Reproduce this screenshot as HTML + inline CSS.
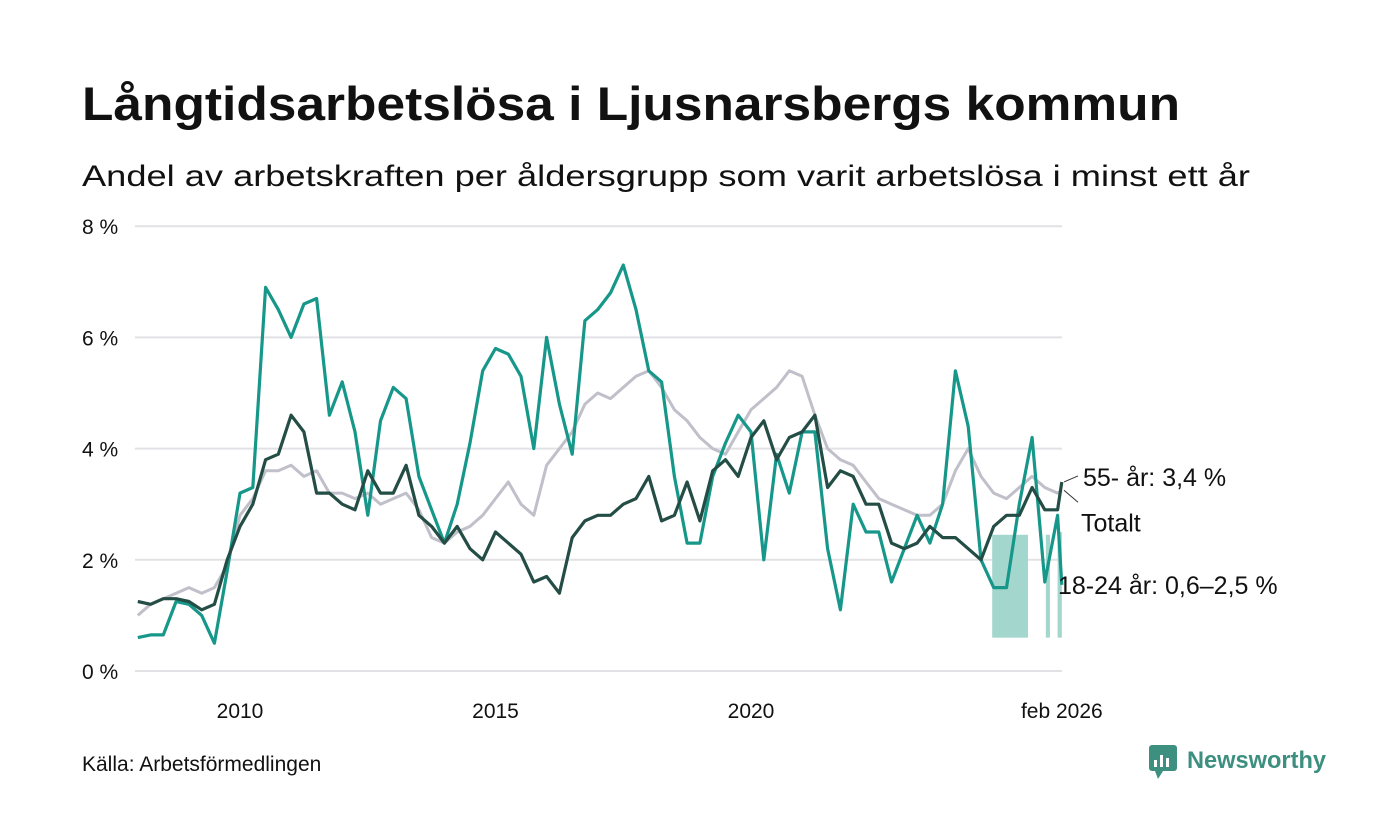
<!DOCTYPE html>
<html><head><meta charset="utf-8"><style>
body{margin:0;background:#fff;font-family:"Liberation Sans",sans-serif;}
#wrap{position:relative;width:1400px;height:840px;overflow:hidden;}
</style></head><body><div id="wrap">
<svg id="chart" width="1400" height="840">
<text x="82" y="120" font-size="47" font-weight="bold" fill="#111" textLength="1098" lengthAdjust="spacingAndGlyphs">Långtidsarbetslösa i Ljusnarsbergs kommun</text>
<text x="82" y="186" font-size="30" fill="#111" textLength="1168" lengthAdjust="spacingAndGlyphs">Andel av arbetskraften per åldersgrupp som varit arbetslösa i minst ett år</text>
<g id="grid"></g><g id="band"></g><g id="lines"></g><g id="labels"></g>
<text x="82" y="771" font-size="21" fill="#111">Källa: Arbetsförmedlingen</text>
<g>
<rect x="1149" y="745" width="28" height="26" rx="3" fill="#3d8f80"/>
<polygon points="1155,771 1163,771 1158,779" fill="#3d8f80"/>
<rect x="1154" y="760" width="3" height="7" fill="#fff"/><rect x="1160" y="755" width="3" height="12" fill="#fff"/><rect x="1166" y="758" width="3" height="9" fill="#fff"/>
<text x="1187" y="768" font-size="24" font-weight="bold" fill="#3d8f80" textLength="139" lengthAdjust="spacingAndGlyphs">Newsworthy</text>
</g>
</svg>
<script>
const times=[];for(let i=0;i<=72;i++)times.push(2008+i*0.25);times.push(2026.083);
const youth=[0.6,0.65,0.65,1.25,1.2,1.0,0.5,1.8,3.2,3.3,6.9,6.5,6.0,6.6,6.7,4.6,5.2,4.3,2.8,4.5,5.1,4.9,3.5,2.9,2.3,3.0,4.1,5.4,5.8,5.7,5.3,4.0,6.0,4.8,3.9,6.3,6.5,6.8,7.3,6.5,5.4,5.2,3.5,2.3,2.3,3.5,4.1,4.6,4.3,2.0,3.9,3.2,4.3,4.3,2.2,1.1,3.0,2.5,2.5,1.6,2.2,2.8,2.3,3.0,5.4,4.4,2.0,1.5,1.5,3.0,4.2,1.6,2.8,1.55];
const total=[1.0,1.2,1.3,1.4,1.5,1.4,1.5,1.9,2.8,3.1,3.6,3.6,3.7,3.5,3.6,3.2,3.2,3.1,3.2,3.0,3.1,3.2,2.9,2.4,2.3,2.5,2.6,2.8,3.1,3.4,3.0,2.8,3.7,4.0,4.3,4.8,5.0,4.9,5.1,5.3,5.4,5.1,4.7,4.5,4.2,4.0,3.9,4.3,4.7,4.9,5.1,5.4,5.3,4.6,4.0,3.8,3.7,3.4,3.1,3.0,2.9,2.8,2.8,3.0,3.6,4.0,3.5,3.2,3.1,3.3,3.5,3.3,3.2,3.25];
const older=[1.25,1.2,1.3,1.3,1.25,1.1,1.2,2.0,2.6,3.0,3.8,3.9,4.6,4.3,3.2,3.2,3.0,2.9,3.6,3.2,3.2,3.7,2.8,2.6,2.3,2.6,2.2,2.0,2.5,2.3,2.1,1.6,1.7,1.4,2.4,2.7,2.8,2.8,3.0,3.1,3.5,2.7,2.8,3.4,2.7,3.6,3.8,3.5,4.2,4.5,3.8,4.2,4.3,4.6,3.3,3.6,3.5,3.0,3.0,2.3,2.2,2.3,2.6,2.4,2.4,2.2,2.0,2.6,2.8,2.8,3.3,2.9,2.9,3.4];
const bandStart=[2024.72,2025.77,2026.0];
const bandEnd=[2025.42,2025.85,2026.083];
const bandLow=[0.6,0.6,0.6];
const bandHigh=[2.45,2.45,2.5];
const yTicks=[0,2,4,6,8];
const xTicks=[2010,2015,2020];
const NS="http://www.w3.org/2000/svg";
const X=t=>240+(t-2010)*51.1;
const Y=v=>671-v*55.6;
function mk(tag,attrs,parent){const e=document.createElementNS(NS,tag);for(const k in attrs)e.setAttribute(k,attrs[k]);document.getElementById(parent).appendChild(e);return e;}
yTicks.forEach(v=>{
 const l=mk('line',{x1:135,x2:1062,y1:Y(v),y2:Y(v),stroke:'#e2e2e6','stroke-width':2},'grid');
 
 
 const t=mk('text',{x:82,y:Y(v)+8,'font-size':21,fill:'#111'},'grid');t.textContent=v+' %';
 
 
});
xTicks.forEach(v=>{
 const t=mk('text',{x:X(v),y:718,'font-size':21,fill:'#111','text-anchor':'middle'},'grid');t.textContent=v;
 
 
});
const tl=mk('text',{x:X(2026.083),y:718,'font-size':21,fill:'#111','text-anchor':'middle'},'grid');tl.textContent='feb 2026';


bandStart.forEach((s,i)=>{
 const r=mk('rect',{x:X(s),y:Y(bandHigh[i]),width:X(bandEnd[i])-X(s),height:Y(bandLow[i])-Y(bandHigh[i]),fill:'#a3d6cd'},'band');
 
 
});
function line(vals,color,w,name){
 const d=vals.map((v,i)=>(i?'L':'M')+X(times[i]).toFixed(1)+','+Y(v).toFixed(1)).join('');
 const p=mk('path',{d:d,fill:'none',stroke:color,'stroke-width':w,'stroke-linejoin':'round'},'lines');
 
 
}
line(total,'#c0bfca',3,'total-line');
line(youth,'#16978a',3.2,'youth-18-24-line');
line(older,'#234d45',3.2,'age-55-line');
const lo=older[older.length-1],lt=total[total.length-1],ly=youth[youth.length-1];
mk('line',{x1:1064,y1:Y(lo),x2:1078,y2:Y(lo)-6,stroke:'#333','stroke-width':1},'labels');
mk('line',{x1:1064,y1:Y(lt),x2:1078,y2:Y(lt)+12,stroke:'#333','stroke-width':1},'labels');
const a=mk('text',{x:1083,y:Y(lo)+4,'font-size':25,fill:'#111'},'labels');a.textContent='55- år: '+lo.toFixed(1).replace('.',',')+' %';


const b=mk('text',{x:1081,y:Y(lt)+41,'font-size':25,fill:'#111'},'labels');b.textContent='Totalt';


const c=mk('text',{x:1058,y:594,'font-size':25,fill:'#111'},'labels');c.textContent='18-24 år: 0,6–2,5 %';


</script></div></body></html>
